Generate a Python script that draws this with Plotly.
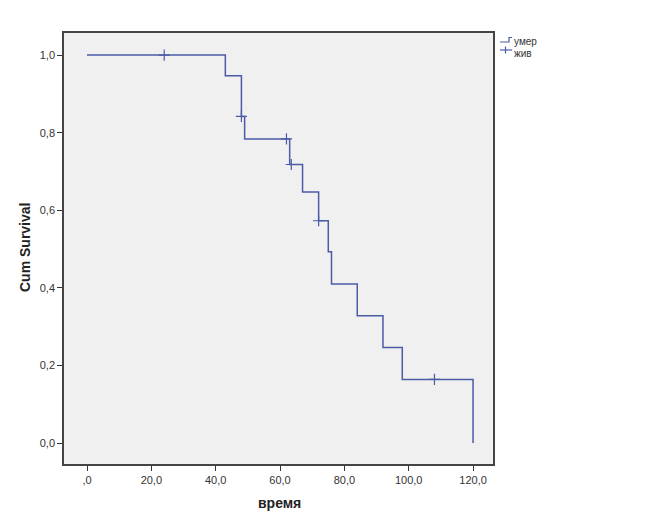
import plotly.graph_objects as go

# Kaplan-Meier step data
step_times = [0, 43, 48, 49, 63, 67, 72, 75, 76, 84, 92, 98, 120]
step_surv = [1.0, 0.947, 0.842, 0.784, 0.718, 0.647, 0.573, 0.493, 0.410, 0.328, 0.246, 0.164, 0.0]

# censored observations
cens_times = [24, 48, 62, 63.5, 72, 108]
cens_surv = [1.0, 0.842, 0.784, 0.718, 0.573, 0.164]

x_ticks = [0, 20, 40, 60, 80, 100, 120]
x_ticktext = [",0", "20,0", "40,0", "60,0", "80,0", "100,0", "120,0"]
y_ticks = [0, 0.2, 0.4, 0.6, 0.8, 1.0]
y_ticktext = ["0,0", "0,2", "0,4", "0,6", "0,8", "1,0"]
legend_names = ["умер", "жив"]

color = "#4B5BA6"
OFF = 8  # page body margin
W, H = 659 - OFF, 527 - OFF
L, T = 64 - OFF, 33 - OFF
R, B = W - (493 - OFF), H - (464 - OFF)
pw, ph = W - L - R, H - T - B


def px(x):
    return (x - OFF - L) / pw


def py(y):
    return 1 - (y - OFF - T) / ph


fig = go.Figure()
fig.add_trace(go.Scatter(
    x=step_times, y=step_surv, mode="lines", name=legend_names[0],
    line=dict(color=color, width=1.5, shape="hv"), showlegend=False,
))
fig.add_trace(go.Scatter(
    x=cens_times, y=cens_surv, mode="markers", name=legend_names[1],
    marker=dict(symbol="cross-thin", size=8, color=color,
                line=dict(color=color, width=1.2)), showlegend=False,
))

# manual legend (SPSS style)
lc = dict(color=color, width=1.2)
shapes = [
    dict(type="path", xref="paper", yref="paper",
         path=f"M {px(500)},{py(42)} L {px(509)},{py(42)} L {px(509)},{py(37.5)} L {px(512)},{py(37.5)}",
         line=lc),
    dict(type="line", xref="paper", yref="paper", x0=px(500), x1=px(512), y0=py(50), y1=py(50), line=lc),
    dict(type="line", xref="paper", yref="paper", x0=px(505.5), x1=px(505.5), y0=py(46.5), y1=py(53.5), line=lc),
]
annotations = [
    dict(text=legend_names[0], xref="paper", yref="paper", x=px(512), y=py(41),
         xanchor="left", yanchor="middle", showarrow=False,
         font=dict(size=10, color="#333333")),
    dict(text=legend_names[1], xref="paper", yref="paper", x=px(512), y=py(53),
         xanchor="left", yanchor="middle", showarrow=False,
         font=dict(size=10, color="#333333")),
    dict(text="<b>Cum Survival</b>", xref="paper", yref="paper", x=px(25), y=py(248),
         xanchor="center", yanchor="middle", textangle=-90, showarrow=False,
         font=dict(size=14, color="#222222")),
    dict(text="<b>время</b>", xref="paper", yref="paper", x=px(279), y=py(503),
         xanchor="center", yanchor="middle", showarrow=False,
         font=dict(size=14, color="#222222")),
]

fig.update_layout(
    width=W, height=H,
    margin=dict(l=L, r=R, t=T, b=B, autoexpand=False),
    paper_bgcolor="white",
    plot_bgcolor="#F0F0F0",
    font=dict(family="Liberation Sans, Arial, sans-serif", color="#222222"),
    showlegend=False,
    shapes=shapes,
    annotations=annotations,
    xaxis=dict(
        range=[-7.15, 126.2], tickvals=x_ticks, ticktext=x_ticktext,
        ticks="outside", ticklen=5, tickcolor="#333333", tickwidth=1,
        showgrid=False, zeroline=False, automargin=False,
        showline=True, linecolor="#444444", linewidth=1.5, mirror=True,
        tickfont=dict(size=11, color="#333333"),
    ),
    yaxis=dict(
        range=[-0.054, 1.057], tickvals=y_ticks, ticktext=y_ticktext,
        ticks="outside", ticklen=5, tickcolor="#333333", tickwidth=1,
        showgrid=False, zeroline=False, automargin=False,
        showline=True, linecolor="#444444", linewidth=1.5, mirror=True,
        tickfont=dict(size=11, color="#333333"),
    ),
)

fig.write_html("out.html")
